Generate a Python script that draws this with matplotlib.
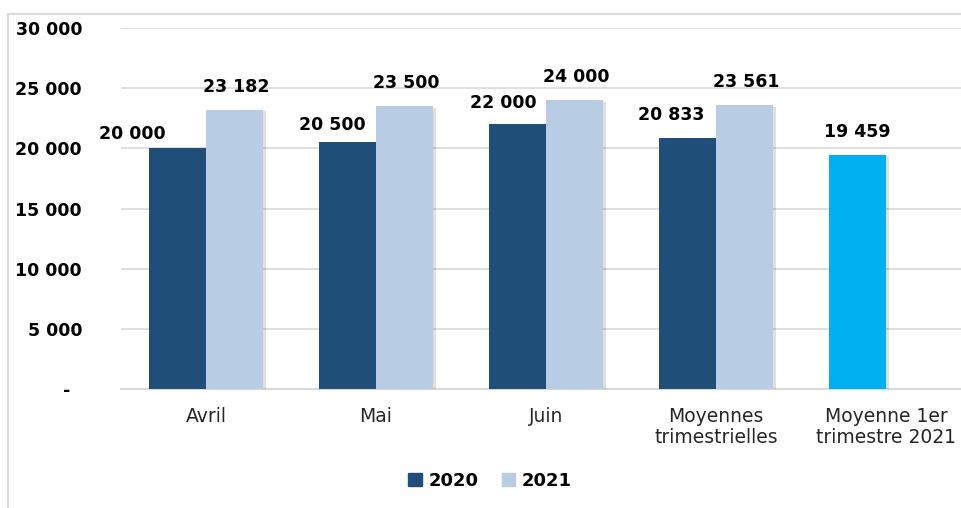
import matplotlib.pyplot as plt
import matplotlib.patheffects as pe
from matplotlib.patches import Patch
import numpy as np
from matplotlib.ticker import FuncFormatter

categories = ["Avril", "Mai", "Juin", "Moyennes\ntrimestrielles", "Moyenne 1er\ntrimestre 2021"]
serie_2020 = [20000, 20500, 22000, 20833, 19459]
serie_2021 = [23182, 23500, 24000, 23561, None]
legend_labels = ["2020", "2021"]

dark = "#1f4e79"
light = "#b8cce4"
cyan = "#00b0f0"

fig = plt.figure(figsize=(9.62, 5.08), dpi=100)
ax = fig.add_axes([121 / 962, 1 - 389 / 508, 850 / 962, 361 / 508])

x = np.arange(len(categories))
w = 0.335
shadow = [pe.SimplePatchShadow(offset=(2, -1), shadow_rgbFace="#000000", alpha=0.12), pe.Normal()]

cols_2020 = [dark] * 4 + [cyan]
b1 = ax.bar(x - w / 2, serie_2020, w, color=cols_2020, zorder=3)
xs21 = [xi + w / 2 for xi, v in zip(x, serie_2021) if v is not None]
vs21 = [v for v in serie_2021 if v is not None]
b2 = ax.bar(xs21, vs21, w, color=light, zorder=3)
for bar in list(b1) + list(b2):
    bar.set_path_effects(shadow)

def fmt(v):
    return f"{v:,.0f}".replace(",", " ")

# label offsets in pixels (dx, dy from bar top centre)
off_2020 = [(-45, 14), (-15, 17), (-14, 21), (-16, 23), (0, 23)]
for bar, v, (dx, dy) in zip(b1, serie_2020, off_2020):
    ax.annotate(fmt(v), (bar.get_x() + bar.get_width() / 2, v), xytext=(dx, dy),
                textcoords="offset pixels", ha="center", va="center",
                fontsize=12.5, fontweight="bold", color="black")
for bar, v in zip(b2, vs21):
    ax.annotate(fmt(v), (bar.get_x() + bar.get_width() / 2, v), xytext=(2, 23),
                textcoords="offset pixels", ha="center", va="center",
                fontsize=12.5, fontweight="bold", color="black")

ax.set_xlim(-0.5, 4.5)
ax.set_ylim(0, 30000)
ax.set_yticks(range(0, 30001, 5000))
ax.yaxis.set_major_formatter(FuncFormatter(lambda v, p: "-  " if v == 0 else fmt(v)))
ax.set_xticks(x)
ax.set_xticklabels(categories, fontsize=13.5, linespacing=1.1, color="#262626")
for t in ax.get_yticklabels():
    t.set_fontweight("bold")
    t.set_fontsize(12.5)
ax.tick_params(axis="y", length=0, pad=28)
ax.tick_params(axis="x", length=0, pad=13)
ax.grid(axis="y", color="#d9d9d9", linewidth=1.2, zorder=0)
for s in ["top", "right", "left"]:
    ax.spines[s].set_visible(False)
ax.spines["bottom"].set_color("#d9d9d9")
ax.spines["bottom"].set_linewidth(1.5)

handles = [Patch(color=dark), Patch(color=light)]
fig.legend(handles=handles, labels=legend_labels, loc="center",
           bbox_to_anchor=(490 / 962, 1 - 481 / 508), ncol=2, frameon=False,
           prop={"weight": "bold", "size": 13}, handlelength=0.75, handleheight=0.75,
           columnspacing=1.3, handletextpad=0.35)

# chart frame (only left and top edges visible)
fig.add_artist(plt.Line2D([8 / 962, 8 / 962], [0, 1 - 14 / 508], color="#d9d9d9", lw=1.5))
fig.add_artist(plt.Line2D([8 / 962, 1], [1 - 14 / 508, 1 - 14 / 508], color="#d9d9d9", lw=1.5))

fig.savefig("out.png", dpi=100)
